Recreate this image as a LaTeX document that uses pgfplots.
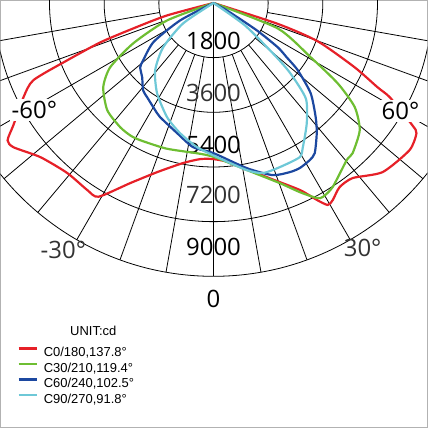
\documentclass[border=0pt]{standalone}
\usepackage{pgfplots}
\pgfplotsset{compat=1.18}
\usepackage{pgfplotstable}
\usepackage{fontspec}
\setmainfont{Open Sans}
\newfontfamily\legfont{Liberation Sans}
\definecolor{cRed}{RGB}{230,32,40}
\definecolor{cGreen}{RGB}{110,190,50}
\definecolor{cBlue}{RGB}{28,72,160}
\definecolor{cCyan}{RGB}{110,200,215}

% angle from nadir (deg), intensity (cd)
\pgfplotstableread{
a I
-90 0
-75 1580
-72.4 2773
-70.8 3948
-68.6 5170
-66.8 6453
-63.6 6986
-58.6 7719
-56.3 8150
-54.2 8120
-48.3 7632
-40.7 7385
-34.0 7430
-30.7 7420
-24.8 6533
-18.4 5869
-10.8 5367
-4.9 5160
0 5141
6.9 5311
17.0 5996
24.8 6783
27.7 7325
29.5 7642
31.2 7583
34.4 7349
38.5 7365
45 7875
53.1 8071
57.3 7941
58.4 7691
61.8 6606
62.8 6075
65.5 5108
69.8 3659
72 2228
90 0
}\redtab

\pgfplotstableread{
a I
-90 0
-69.4 1632
-63.3 2960
-58.1 4007
-52.6 4570
-44.7 4971
-36.9 5115
-32 5150
-28.1 5122
-18 5040
-7 4975
-2.4 5014
1.3 5109
11.3 5611
20.2 6320
24.5 6843
27.9 7267
29.4 7332
32.9 7221
40.3 6783
42.8 6741
49.0 6380
53.6 5778
57.1 4871
60.8 3669
68.4 2279
90 0
}\greentab

\pgfplotstableread{
a I
-90 0
-62.4 1242
-57 2350
-50.8 2989
-48.7 3213
-43.8 3393
-38.9 3692
-35.1 3797
-27.1 4077
-25 4152
-15.6 4451
-8.1 4793
0 4944
11.4 5548
19 5995
24.3 6110
27.6 6133
31.5 6067
34 5962
38.4 5473
41.8 5049
47.1 4369
51.4 3551
53.4 3006
55.4 2575
57.7 1691
61 507
90 0
}\bluetab

\pgfplotstableread{
a I
-90 0
-56.1 1207
-48.6 2211
-40.9 2934
-32.0 3505
-22.1 4060
-14.4 4426
-6.5 4777
1.3 5076
11.3 5611
16.2 5832
22.0 5829
29.2 5817
31.8 5584
37.8 5010
44 4380
47.5 3442
49.5 2657
54.5 1271
90 0
}\cyantab

\begin{document}
\begin{tikzpicture}
\begin{axis}[
  width=428pt, height=428pt, scale only axis,
  xmin=-7013, xmax=7046, ymin=-13978, ymax=82,
  xtick=\empty, ytick=\empty,
  axis line style={draw=gray!60, line width=1pt},
  clip=true,
  legend cell align=left,
  legend style={at={(axis cs:-6455,-11310)}, anchor=north west, draw=none, fill=none,
    font=\legfont\fontsize{13}{15}\selectfont, inner sep=0pt, row sep=2.5pt,
    nodes={inner sep=0pt, text height=10pt, text depth=3pt},
    /tikz/every odd column/.append style={column sep=6pt}},
  legend image code/.code={\draw[#1, line width=2.2pt] (0pt,4.6pt) -- (18pt,4.6pt);},
]
% grid
\pgfplotsinvokeforeach{1800,3600,5400,7200,9000}{
  \draw[black, line width=0.8pt] (axis cs:0,0) circle[radius=#1];
}
\pgfplotsinvokeforeach{-80,-70,...,80}{
  \draw[black, line width=0.8pt] (axis cs:{1800*sin(#1)},{-1800*cos(#1)}) -- (axis cs:{9000*sin(#1)},{-9000*cos(#1)});
}
\draw[black, line width=0.8pt] (axis cs:0,0) -- (axis cs:0,-9000);
% labels
\node[font=\fontsize{24}{24}\selectfont, inner sep=0pt] at (axis cs:0,-1265) {1800};
\node[font=\fontsize{24}{24}\selectfont, inner sep=0pt, text=black!80] at (axis cs:0,-2973) {3600};
\node[font=\fontsize{24}{24}\selectfont, inner sep=0pt] at (axis cs:0,-4681) {5400};
\node[font=\fontsize{24}{24}\selectfont, inner sep=0pt, text=black!80] at (axis cs:0,-6324) {7200};
\node[font=\fontsize{24}{24}\selectfont, inner sep=0pt] at (axis cs:0,-8032) {9000};
\node[font=\fontsize{24}{24}\selectfont, inner sep=0pt] at (axis cs:0,-9740) {0};
\node[font=\fontsize{24}{24}\selectfont, inner sep=0pt, text=black!80] at (axis cs:-4944,-8130) {-30°};
\node[font=\fontsize{24}{24}\selectfont, inner sep=0pt, text=black!80] at (axis cs:4911,-8065) {30°};
\node[font=\legfont\fontsize{13}{15}\selectfont, anchor=base, inner sep=0pt] at (axis cs:-3958,-10956) {UNIT:cd};
% curves
\addplot[cRed, line width=2.2pt, smooth, tension=0.4, data cs=polar] table[x expr=\thisrow{a}-90, y=I] {\redtab};
\addlegendentry{C0/180,137.8°}
\addplot[cGreen, line width=2.2pt, smooth, tension=0.4, data cs=polar] table[x expr=\thisrow{a}-90, y=I] {\greentab};
\addlegendentry{C30/210,119.4°}
\addplot[cBlue, line width=2.2pt, smooth, tension=0.4, data cs=polar] table[x expr=\thisrow{a}-90, y=I] {\bluetab};
\addlegendentry{C60/240,102.5°}
\addplot[cCyan, line width=2.2pt, smooth, tension=0.4, data cs=polar] table[x expr=\thisrow{a}-90, y=I] {\cyantab};
\addlegendentry{C90/270,91.8°}
% angle labels over the curves, with a white ground
\node[font=\fontsize{24}{24}\selectfont, inner sep=2pt, fill=white] at (axis cs:-5897,-3531) {-60°};
\node[font=\fontsize{24}{24}\selectfont, inner sep=2pt, fill=white] at (axis cs:6159,-3564) {60°};
\end{axis}
\end{tikzpicture}
\end{document}
